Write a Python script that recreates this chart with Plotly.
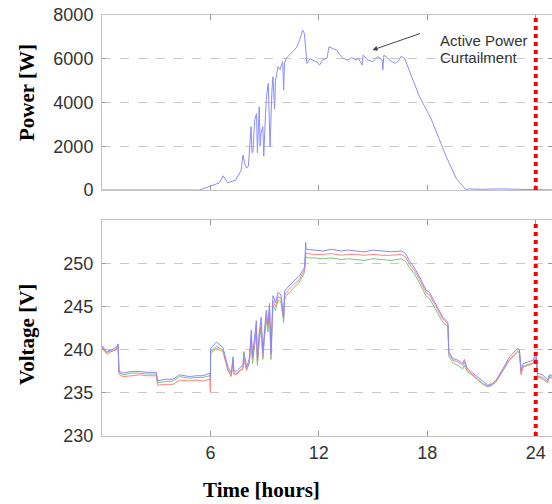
import plotly.graph_objects as go

# ---------------- data ----------------
power_t = [0, 5.4, 6.0, 6.5, 6.7, 6.95, 7.2, 7.4, 7.7, 7.8, 7.9, 8.0, 8.1, 8.25, 8.3, 8.35, 8.45, 8.55, 8.6,
           8.7, 8.75, 8.8, 8.9, 8.95, 9.05, 9.1, 9.2, 9.25, 9.3, 9.4, 9.46, 9.55, 9.6, 9.74, 9.85, 10.0, 10.05,
           10.1, 10.2, 10.4, 10.56, 10.75, 10.94, 11.1, 11.2, 11.34, 11.5, 11.7, 11.9, 12.04, 12.2, 12.45, 12.56,
           12.8, 12.97, 13.15, 13.33, 13.6, 13.8, 14.07, 14.2, 14.4, 14.45, 14.7, 14.99, 15.25, 15.5, 15.54, 15.6,
           15.9, 16.2, 16.4, 16.56, 16.74, 17.0, 17.57, 18.2, 18.58, 19.05, 19.6, 20.15, 20.3, 21.0, 22.0, 23.0,
           24.0, 24.05, 25.0]
power_w = [0, 0, 180, 330, 650, 330, 400, 450, 900, 1600, 1200, 1000, 1100, 2900, 1700, 1750, 3200, 3500, 1700,
           3800, 2000, 2600, 2900, 1550, 3500, 4260, 4880, 3000, 1980, 4500, 5180, 3700, 5000, 5640, 5500, 5870, 4570,
           5800, 6020, 6200, 6320, 6500, 6860, 7310, 7150, 5790, 6000, 5940, 5850, 5710, 5940, 6020, 6550,
           6450, 6400, 6200, 6020, 5940, 6050, 5950, 6000, 5710, 6170, 5950, 5870, 6100, 5950, 5490, 6170,
           5950, 5790, 5900, 6120, 6020, 5490, 4260, 3280, 2510, 1520, 530, 0, 50, 30, 50, 40,
           30, 0, 0]

volt_t = [0, 0.25, 0.5, 0.79, 0.89, 0.94, 1.16, 1.6, 2.08, 2.5, 3.0, 3.08, 3.5, 3.93, 4.3, 4.85, 5.2, 5.59, 5.96,
          6.0, 6.01, 6.33, 6.69, 6.97, 7.15, 7.25, 7.3, 7.43, 7.6, 7.8, 7.85, 8.0, 8.15, 8.26, 8.33, 8.45, 8.54,
          8.6, 8.7, 8.81, 8.9, 9.0, 9.09, 9.18, 9.27, 9.35, 9.46, 9.6, 9.74, 9.9, 10.05, 10.1, 10.2, 10.56, 10.93,
          11.21, 11.27, 11.3, 11.7, 12.22, 12.7, 13.2, 13.6, 14.07, 14.5, 15.0, 15.5, 16.0, 16.56, 16.8, 17.0,
          17.3, 17.57, 17.94, 18.12, 18.4, 18.86, 19.04, 19.14, 19.19, 19.41, 19.7, 19.96, 20.05, 20.2, 20.52,
          21.07, 21.35, 21.6, 21.81, 22.18, 22.55, 23.01, 23.1, 23.19, 23.3, 23.84, 24.02, 24.1, 24.39, 24.66,
          24.75, 25.0]
volt_blue = [240.5, 239.8, 240.0, 240.3, 240.7, 237.5, 237.3, 237.5, 237.5, 237.4, 237.4, 236.4, 236.6, 236.6,
             237.1, 236.9, 237.0, 237.0, 237.3, 236.8, 240.2, 240.9, 240.3, 238.0, 237.3, 239.2, 237.6, 237.5,
             237.9, 238.2, 239.8, 238.0, 239.0, 242.3, 239.2, 241.5, 243.4, 238.8, 242.0, 243.8, 239.6, 242.5,
             244.6, 243.0, 245.4, 239.6, 246.3, 245.5, 246.7, 246.4, 243.8, 246.8, 247.1, 247.9, 248.6, 249.6,
             252.5, 251.7, 251.6, 251.5, 251.7, 251.5, 251.6, 251.5, 251.4, 251.6, 251.5, 251.4, 251.5, 251.2,
             250.4, 249.5, 248.5, 246.9, 246.7, 245.6, 243.8, 243.4, 243.2, 239.8, 239.0, 238.8, 238.4, 238.9,
             237.9, 237.3, 236.3, 235.9, 236.1, 236.5, 237.8, 239.2, 240.2, 240.0, 237.6, 238.4, 238.8, 239.6,
             237.3, 237.1, 236.5, 237.1, 237.0]
volt_red = [240.3, 239.5, 239.8, 240.0, 240.4, 237.2, 236.9, 237.0, 237.1, 237.0, 237.0, 235.9, 236.0, 236.0,
            236.5, 236.4, 236.5, 236.4, 236.6, 235.1, 239.6, 240.2, 239.8, 237.6, 236.9, 238.6, 237.2, 237.1,
            237.5, 237.8, 239.0, 237.6, 238.6, 241.5, 238.9, 241.0, 242.6, 238.5, 241.6, 243.0, 239.2, 242.0,
            244.0, 242.6, 244.8, 239.4, 245.7, 245.0, 246.2, 246.0, 243.6, 246.3, 246.7, 247.5, 248.2, 249.3,
            251.4, 251.2, 251.1, 251.1, 251.2, 251.0, 251.1, 251.1, 251.0, 251.1, 251.0, 251.0, 251.1, 250.8,
            250.0, 249.2, 248.2, 246.6, 246.4, 245.3, 243.6, 243.2, 243.0, 239.6, 238.8, 238.6, 238.2, 238.6,
            237.7, 237.1, 236.1, 235.8, 236.0, 236.3, 237.6, 238.9, 239.9, 239.8, 237.1, 238.1, 238.5, 239.2,
            236.9, 236.6, 236.2, 236.8, 236.7]
volt_green = [240.4, 239.7, 239.9, 240.1, 240.5, 237.4, 237.1, 237.3, 237.3, 237.2, 237.2, 236.2, 236.3, 236.4,
              236.9, 236.7, 236.8, 236.8, 237.0, 236.5, 239.8, 240.4, 240.0, 237.7, 237.0, 238.8, 237.3, 237.2,
              237.6, 237.9, 239.2, 237.7, 238.4, 241.2, 238.4, 240.6, 242.2, 238.2, 241.0, 242.6, 238.9, 241.6,
              243.6, 242.1, 244.3, 238.9, 245.2, 244.6, 245.8, 245.6, 243.2, 245.8, 246.3, 247.1, 247.9, 249.0,
              251.0, 250.7, 250.7, 250.6, 250.7, 250.5, 250.6, 250.5, 250.4, 250.6, 250.5, 250.4, 250.6, 250.3,
              249.6, 248.8, 247.8, 246.2, 246.0, 244.9, 243.2, 242.9, 242.8, 239.3, 238.5, 238.2, 237.8, 238.2,
              237.5, 237.0, 236.0, 235.7, 235.9, 236.3, 237.5, 238.8, 239.8, 239.6, 237.3, 238.0, 238.4, 239.1,
              237.0, 236.8, 236.3, 236.9, 236.8]

x_ticks = [6, 12, 18, 24]
x_tick_labels = ["6", "12", "18", "24"]
power_ticks = [0, 2000, 4000, 6000, 8000]
volt_ticks = [230, 235, 240, 245, 250]
curtail_hour = 24

# ---------------- figure ----------------
fig = go.Figure()
line_w = 1
fig.add_trace(go.Scatter(x=power_t, y=power_w, mode="lines", line=dict(color="#8c8cff", width=line_w),
                         xaxis="x", yaxis="y", showlegend=False))
fig.add_trace(go.Scatter(x=volt_t, y=volt_green, mode="lines", line=dict(color="#78c878", width=line_w),
                         xaxis="x2", yaxis="y2", showlegend=False))
fig.add_trace(go.Scatter(x=volt_t, y=volt_red, mode="lines", line=dict(color="#ff8484", width=line_w),
                         xaxis="x2", yaxis="y2", showlegend=False))
fig.add_trace(go.Scatter(x=volt_t, y=volt_blue, mode="lines", line=dict(color="#8787ff", width=line_w),
                         xaxis="x2", yaxis="y2", showlegend=False))

frame = "#c4c4c4"
tickfont = dict(family="Liberation Sans, Arial, sans-serif", size=18, color="#333333")
xcommon = dict(range=[0, 24.9], tickvals=x_ticks, ticktext=x_tick_labels, ticks="inside", ticklen=5,
               tickcolor="#999999", showline=True, linecolor=frame, linewidth=1, mirror="ticks",
               showgrid=False, zeroline=False, tickfont=tickfont)
ycommon = dict(ticks="inside", ticklen=4, tickcolor="#999999", showline=True, linecolor=frame, linewidth=1,
               mirror="ticks", showgrid=True, gridcolor="#c8c8c8", griddash="dash", gridwidth=1,
               zeroline=False, tickfont=tickfont, ticklabelstandoff=4)

top_dom = [(436 - 190) / 421, 1.0]
bot_dom = [0.0, (436 - 220) / 421]

fig.update_layout(
    width=552, height=504,
    margin=dict(l=102, r=0, t=15, b=68),
    paper_bgcolor="white", plot_bgcolor="white",
    xaxis=dict(**xcommon, domain=[0, 1], anchor="y", showticklabels=False),
    yaxis=dict(**ycommon, domain=top_dom, anchor="x", range=[0, 8000], tickvals=power_ticks),
    xaxis2=dict(**xcommon, domain=[0, 1], anchor="y2"),
    yaxis2=dict(**ycommon, domain=bot_dom, anchor="x2", range=[230, 255.1], tickvals=volt_ticks),
)

# red dotted curtailment markers
for xr, yr, y0, y1 in [("x", "y", 0, 8000), ("x2", "y2", 230, 255.1)]:
    fig.add_shape(type="line", xref=xr, yref=yr, x0=curtail_hour, x1=curtail_hour, y0=y0, y1=y1,
                  line=dict(color="#ff0000", width=4, dash="dot"))

serif = "Liberation Serif, Times New Roman, serif"
fig.add_annotation(text="<b>Power [W]</b>", xref="paper", yref="paper", x=(27 - 102) / 450, y=(436 - 93) / 421,
                   xanchor="center", yanchor="middle", textangle=-90, showarrow=False,
                   font=dict(family=serif, size=21, color="black"))
fig.add_annotation(text="<b>Voltage [V]</b>", xref="paper", yref="paper", x=(27 - 102) / 450, y=(436 - 335) / 421,
                   xanchor="center", yanchor="middle", textangle=-90, showarrow=False,
                   font=dict(family=serif, size=21, color="black"))
fig.add_annotation(text="<b>Time [hours]</b>", xref="paper", yref="paper", x=(261 - 102) / 450, y=-(490 - 436) / 421,
                   xanchor="center", yanchor="middle", showarrow=False,
                   font=dict(family=serif, size=21, color="black"))

note_font = dict(family="Liberation Sans, Arial, sans-serif", size=15, color="#333333")
fig.add_annotation(text="Active Power", xref="x", yref="y", x=18.6, y=6857,
                   xanchor="left", yanchor="middle", showarrow=False, font=note_font)
fig.add_annotation(text="Curtailment", xref="x", yref="y", x=18.6, y=6080,
                   xanchor="left", yanchor="middle", showarrow=False, font=note_font)
fig.add_annotation(text="", xref="x", yref="y", x=14.97, y=6400, ax=49, ay=-17, showarrow=True,
                   arrowhead=2, arrowsize=1, arrowwidth=1, arrowcolor="#444444")

fig.write_html("out.html", config={"displayModeBar": False},
               post_script="document.body.style.margin='0px';document.body.style.overflow='hidden';")
